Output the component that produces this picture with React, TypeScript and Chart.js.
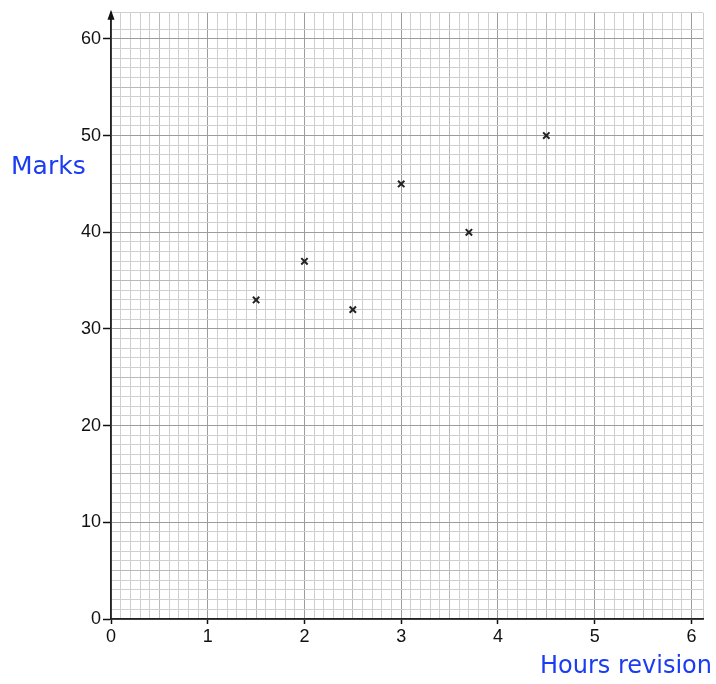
import React, { useEffect, useRef } from 'react';
import { Chart, registerables } from 'chart.js';
Chart.register(...registerables);

const hours = [1.5, 2, 2.5, 3, 3.7, 4.5];
const marks = [33, 37, 32, 45, 40, 50];
const xTitle = 'Hours revision';
const yTitle = 'Marks';
const xMin = 0;
const xMax = 6.12;
const xStep = 0.1;
const xLabelEvery = 1;
const yMin = 0;
const yMax = 62.7;
const yStep = 1;
const yLabelEvery = 10;

const near = (v: number, unit: number) => Math.abs(v / unit - Math.round(v / unit)) < 1e-6;

const gridColor = (v: number, major: number) => {
  if (near(v, major)) return '#9c9c9c';
  if (near(v, major / 2)) return '#bababa';
  return '#cfcfcf';
};

const decor = {
  id: 'decor',
  afterDraw(chart: any) {
    const { ctx, chartArea } = chart;
    ctx.save();
    ctx.fillStyle = '#111';
    ctx.beginPath();
    ctx.moveTo(chartArea.left, chartArea.top - 3);
    ctx.lineTo(chartArea.left - 3.5, chartArea.top + 7);
    ctx.lineTo(chartArea.left + 3.5, chartArea.top + 7);
    ctx.closePath();
    ctx.fill();
    ctx.fillStyle = '#1b3cf2';
    ctx.font = '25px "Comic Sans MS", "DejaVu Sans", sans-serif';
    ctx.textBaseline = 'middle';
    ctx.textAlign = 'left';
    ctx.fillText(yTitle, 11, 167);
    ctx.textAlign = 'right';
    ctx.font = '24px "Comic Sans MS", "DejaVu Sans", sans-serif';
    ctx.fillText(xTitle, 712, 667);
    ctx.restore();
  },
};

export default function App() {
  const ref = useRef<HTMLCanvasElement>(null);
  useEffect(() => {
    document.body.style.margin = '0';
    const chart = new Chart(ref.current!, {
      type: 'scatter',
      data: {
        datasets: [
          {
            data: hours.map((h, i) => ({ x: h, y: marks[i] })),
            pointStyle: 'crossRot',
            pointRadius: 4.5,
            borderColor: '#222',
            backgroundColor: '#222',
            borderWidth: 2,
          },
        ],
      },
      options: {
        animation: false,
        responsive: false,
        layout: { padding: { top: 12, right: 13, left: 0, bottom: 0 } },
        plugins: { legend: { display: false }, tooltip: { enabled: false } },
        scales: {
          x: {
            type: 'linear',
            min: xMin,
            max: xMax,
            afterFit(s: any) { s.height = 65; },
            ticks: {
              stepSize: xStep,
              autoSkip: false,
              maxRotation: 0,
              padding: 2,
              color: '#111',
              font: { family: '"Liberation Sans", Arial, sans-serif', size: 18 },
              callback: (v: any) => (near(Number(v), xLabelEvery) ? String(Math.round(Number(v))) : ''),
            },
            grid: {
              color: (c: any) => gridColor(c.tick.value, xLabelEvery),
              lineWidth: 1,
              tickLength: 5,
              tickColor: (c: any) => (near(c.tick.value, xLabelEvery) ? '#111' : 'rgba(0,0,0,0)'),
              tickWidth: 1.5,
            },
            border: { color: '#222', width: 1.8 },
          },
          y: {
            type: 'linear',
            min: yMin,
            max: yMax,
            afterFit(s: any) { s.width = 111; },
            ticks: {
              stepSize: yStep,
              autoSkip: false,
              padding: 2,
              color: '#111',
              font: { family: '"Liberation Sans", Arial, sans-serif', size: 18 },
              callback: (v: any) => (near(Number(v), yLabelEvery) ? String(Math.round(Number(v))) : ''),
            },
            grid: {
              color: (c: any) => gridColor(c.tick.value, yLabelEvery),
              lineWidth: 1,
              tickLength: 8,
              tickColor: (c: any) => (near(c.tick.value, yLabelEvery) ? '#111' : 'rgba(0,0,0,0)'),
              tickWidth: 1.5,
            },
            border: { color: '#222', width: 1.8 },
          },
        },
      },
      plugins: [decor],
    });
    return () => chart.destroy();
  }, []);
  return (
    <div style={{ width: 716, height: 684, background: '#fff' }}>
      <canvas ref={ref} width={716} height={684} />
    </div>
  );
}
